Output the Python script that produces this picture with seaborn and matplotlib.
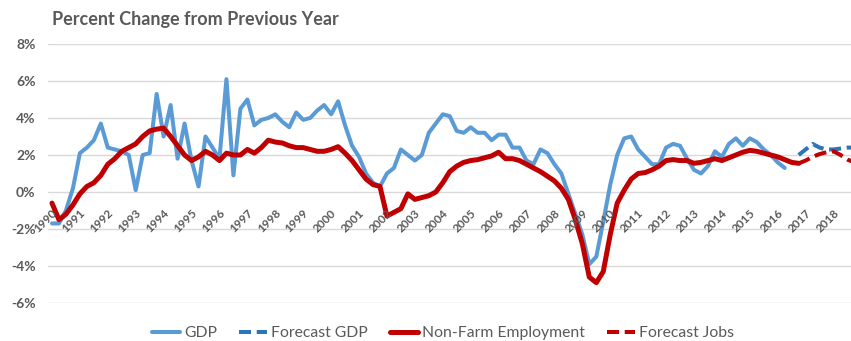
import numpy as np
import pandas as pd
import matplotlib
matplotlib.use("Agg")
import matplotlib.pyplot as plt
import seaborn as sns

# ---------------- data ----------------
quarters = pd.period_range("1990Q1", "2018Q4", freq="Q")
years = list(range(1990, 2019))

gdp_start = "1990Q1"
gdp = [-1.7, -1.7, -1.0, 0.2, 2.1, 2.4, 2.8, 3.7, 2.4, 2.3, 2.2, 2.0,
       0.1, 2.0, 2.1, 5.3, 3.0, 4.7, 1.8, 3.7, 1.7, 0.3, 3.0, 2.4,
       1.8, 6.1, 0.9, 4.5, 5.0, 3.6, 3.9, 4.0, 4.2, 3.8, 3.5, 4.3,
       3.9, 4.0, 4.4, 4.7, 4.2, 4.9, 3.6, 2.5, 1.9, 1.0, 0.5, 0.3,
       1.0, 1.3, 2.3, 2.0, 1.7, 2.0, 3.2, 3.7, 4.2, 4.1, 3.3, 3.2,
       3.5, 3.2, 3.2, 2.8, 3.1, 3.1, 2.4, 2.4, 1.7, 1.5, 2.3, 2.1,
       1.5, 1.0, -0.1, -1.2, -2.3, -3.9, -3.5, -1.6, 0.4, 2.0, 2.9, 3.0,
       2.3, 1.9, 1.5, 1.5, 2.4, 2.6, 2.5, 1.8, 1.2, 1.0, 1.4, 2.2,
       1.9, 2.6, 2.9, 2.5, 2.9, 2.7, 2.3, 2.0, 1.6, 1.3]

fc_gdp_start = "2016Q4"
fc_gdp = [2.0, 2.3, 2.6, 2.4, 2.3, 2.3, 2.35, 2.4, 2.4]

jobs_start = "1990Q1"
jobs = [-0.6, -1.5, -1.2, -0.7, -0.1, 0.3, 0.5, 0.9, 1.5, 1.8, 2.2, 2.4,
        2.6, 3.0, 3.3, 3.4, 3.45, 3.0, 2.5, 2.0, 1.7, 1.9, 2.2, 2.0,
        1.7, 2.1, 2.0, 2.0, 2.3, 2.1, 2.4, 2.8, 2.7, 2.65, 2.5, 2.4,
        2.4, 2.3, 2.2, 2.2, 2.3, 2.45, 2.1, 1.7, 1.2, 0.7, 0.4, 0.3,
        -1.3, -1.1, -0.9, -0.1, -0.4, -0.3, -0.2, 0.0, 0.5, 1.1, 1.4, 1.6,
        1.7, 1.75, 1.85, 1.95, 2.15, 1.8, 1.8, 1.7, 1.5, 1.3, 1.1, 0.85,
        0.6, 0.2, -0.4, -1.5, -2.8, -4.6, -4.9, -4.3, -2.3, -0.6, 0.1, 0.7,
        1.0, 1.05, 1.2, 1.4, 1.7, 1.75, 1.7, 1.7, 1.55, 1.6, 1.7, 1.8,
        1.7, 1.85, 2.0, 2.15, 2.25, 2.2, 2.1, 2.0, 1.9, 1.75, 1.6, 1.55]

fc_jobs_start = "2016Q4"
fc_jobs = [1.55, 1.7, 1.9, 2.05, 2.15, 2.2, 2.0, 1.75, 1.6]

yticks = [-6, -4, -2, 0, 2, 4, 6, 8]
title = "Percent Change from Previous Year"
legend_labels = ["GDP", "Forecast GDP", "Non-Farm Employment", "Forecast Jobs"]


def series_frame(start, values):
    i0 = quarters.get_loc(pd.Period(start, freq="Q"))
    return pd.DataFrame({"q": np.arange(i0, i0 + len(values)), "v": values})


# ---------------- style ----------------
sns.set_theme(style="white")
plt.rcParams["font.family"] = ["Lato", "DejaVu Sans"]
txt_col = "#595959"

fig = plt.figure(figsize=(8.51, 3.41), dpi=100)
ax = fig.add_axes([48 / 851, 38 / 341, 803 / 851, 259 / 341])

blue = "#5B9BD5"
blue_fc = "#2E75B6"
red = "#C00000"

d = series_frame(gdp_start, gdp)
sns.lineplot(data=d, x="q", y="v", ax=ax, color=blue, lw=2.9, label=legend_labels[0],
             solid_joinstyle="round")
d = series_frame(fc_gdp_start, fc_gdp)
sns.lineplot(data=d, x="q", y="v", ax=ax, color=blue_fc, lw=2.9,
             label=legend_labels[1])
ax.lines[-1].set_dashes((3, 1.4))
d = series_frame(jobs_start, jobs)
sns.lineplot(data=d, x="q", y="v", ax=ax, color=red, lw=3.6,
             label=legend_labels[2], solid_joinstyle="round")
d = series_frame(fc_jobs_start, fc_jobs)
sns.lineplot(data=d, x="q", y="v", ax=ax, color=red, lw=2.9,
             label=legend_labels[3])
ax.lines[-1].set_dashes((3, 1.4))

# axes
ax.set_xlim(-0.57, 114.5)
ax.set_ylim(-6, 8)
ax.set_yticks(yticks)
ax.set_yticklabels([f"{t}%" for t in yticks], fontsize=10, fontweight="bold",
                   color=txt_col)
ax.tick_params(axis="y", length=0, pad=9)
ax.grid(axis="y", color="#D9D9D9", lw=1)
ax.set_axisbelow(True)
for s in ax.spines.values():
    s.set_visible(False)
ax.set_xticks([])
ax.set_xlabel("")
ax.set_ylabel("")

# x category labels next to the zero line
for yr in years:
    qi = quarters.get_loc(pd.Period(f"{yr}Q1", freq="Q"))
    ax.annotate(str(yr), xy=(qi, 0), xytext=(2.5, -14), textcoords="offset points",
                rotation=45, ha="right", va="center", rotation_mode="anchor",
                fontsize=8.5, fontweight="bold", color=txt_col,
                annotation_clip=False)

fig.text(52 / 851, 1 - 19 / 341, title, fontsize=13, fontweight="bold",
         color=txt_col, ha="left", va="center")

if ax.legend_:
    ax.legend_.remove()
handles = ax.lines[:4]
fig.legend(handles, legend_labels, loc="center", bbox_to_anchor=(443 / 851, 8 / 341),
           ncol=4, frameon=False, fontsize=11.3, handlelength=1.8,
           columnspacing=1.4, handletextpad=0.25, labelcolor=txt_col)

fig.savefig("out.png", dpi=100)
